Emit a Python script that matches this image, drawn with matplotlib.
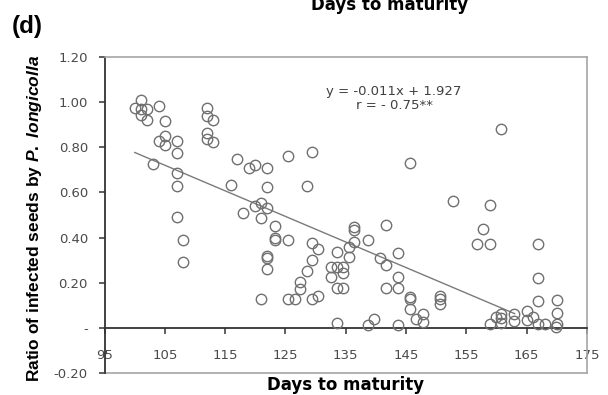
import numpy as np
import matplotlib
matplotlib.use("Agg")
import matplotlib.pyplot as plt

plt.rcParams['font.family'] = ['DejaVu Sans']
plt.rcParams['mathtext.fontset'] = 'custom'
plt.rcParams['mathtext.it'] = 'Liberation Sans:italic:bold'
plt.rcParams['mathtext.rm'] = 'Liberation Sans:bold'

# days to maturity vs ratio of infected seeds, 10 per row
days = [101, 100, 101, 102, 101, 102, 104, 105, 104, 105,
        105, 107, 107, 103, 107, 107, 107, 108, 108, 112,
        112, 113, 112, 112, 113, 116, 117, 119, 120, 122,
        122, 121, 120, 118, 122, 121, 123.3, 123.3, 123.3, 122,
        122, 122, 121, 125.4, 125.4, 125.4, 126.5, 127.4, 127.4, 128.5,
        128.5, 129.4, 129.4, 130.4, 129.4, 129.4, 130.4, 133.5, 132.5, 133.5,
        134.6, 132.5, 134.6, 133.5, 134.6, 133.5, 135.6, 135.6, 136.4, 136.4,
        136.4, 138.6, 138.6, 139.6, 140.6, 141.6, 141.6, 143.7, 143.7, 141.6,
        143.7, 143.7, 145.6, 145.6, 145.6, 146.7, 147.8, 147.8, 145.7, 150.7,
        150.7, 150.7, 152.8, 158.9, 157.7, 156.8, 158.9, 160.7, 158.9, 159.9,
        160.7, 160.7, 160.7, 162.9, 162.9, 165, 165, 166.1, 166.8, 166.8,
        166.8, 166.8, 168, 170.1, 170.1, 170.1, 169.8]
ratio = [1.01, 0.975, 0.97, 0.97, 0.945, 0.92, 0.985, 0.915, 0.83, 0.85,
         0.81, 0.83, 0.775, 0.725, 0.685, 0.63, 0.49, 0.39, 0.29, 0.975,
         0.94, 0.92, 0.865, 0.835, 0.825, 0.635, 0.75, 0.71, 0.72, 0.71,
         0.625, 0.555, 0.54, 0.51, 0.53, 0.485, 0.45, 0.40, 0.39, 0.32,
         0.31, 0.26, 0.13, 0.76, 0.39, 0.13, 0.13, 0.205, 0.17, 0.25,
         0.63, 0.78, 0.375, 0.35, 0.30, 0.13, 0.14, 0.335, 0.27, 0.27,
         0.27, 0.225, 0.245, 0.175, 0.175, 0.02, 0.36, 0.315, 0.445, 0.435,
         0.38, 0.39, 0.012, 0.04, 0.31, 0.455, 0.28, 0.33, 0.225, 0.175,
         0.175, 0.012, 0.135, 0.128, 0.085, 0.04, 0.06, 0.027, 0.73, 0.14,
         0.128, 0.105, 0.56, 0.545, 0.44, 0.37, 0.37, 0.88, 0.015, 0.05,
         0.06, 0.045, 0.02, 0.06, 0.03, 0.075, 0.035, 0.05, 0.015, 0.37,
         0.22, 0.12, 0.015, 0.125, 0.065, 0.015, 0.005]

# fitted line as drawn in the figure
trend_days = [100, 163]
trend_ratio = [0.777, 0.063]

x_ticks = [95, 105, 115, 125, 135, 145, 155, 165, 175]
y_ticks = [1.2, 1.0, 0.8, 0.6, 0.4, 0.2, 0.0, -0.2]
y_labels = ['1.20', '1.00', '0.80', '0.60', '0.40', '0.20', '-', '-0.20']

fig = plt.figure(figsize=(6.08, 3.95), dpi=100)
ax = fig.add_axes([0.172, 0.0557, 0.7935, 0.8])

ax.plot(days, ratio, 'o', ms=7.5, mfc='none', mec='#707070', mew=1.0, zorder=3)
ax.plot(trend_days, trend_ratio, color='#7a7a7a', lw=1.0, zorder=2)

ax.set_xlim(95, 175)
ax.set_ylim(-0.2, 1.2)
ax.set_xticks(x_ticks)
ax.set_yticks(y_ticks)
ax.set_yticklabels(y_labels)

dark = '#333333'
gray = '#a6a6a6'
ax.spines['bottom'].set_position(('data', 0))
ax.spines['bottom'].set_color(dark)
ax.spines['bottom'].set_linewidth(1.3)
ax.spines['left'].set_color(dark)
ax.spines['left'].set_linewidth(1.3)
for s in ['top', 'right']:
    ax.spines[s].set_color(gray)
    ax.spines[s].set_linewidth(1.2)
ax.axhline(-0.2, color=gray, lw=1.2, clip_on=False)

ax.tick_params(axis='x', direction='out', length=4, width=1.1, color=dark,
               labelsize=9.5, labelcolor='#4a4a4a', pad=11)
ax.tick_params(axis='y', direction='out', length=4, width=1.1, color=dark,
               labelsize=9.5, labelcolor='#4a4a4a', pad=8)

ax.set_xlabel('Days to maturity', fontsize=12, fontweight='bold')
ax.xaxis.set_label_coords(0.5, -0.008)
ax.set_ylabel(r'Ratio of infected seeds by $\mathit{P.\ longicolla}$',
              fontsize=12.5, fontweight='bold', family='Liberation Sans')
ax.yaxis.set_label_coords(-0.125, 0.49)

ax.text(0.6, 0.912, 'y = -0.011x + 1.927\nr = - 0.75**', transform=ax.transAxes,
        ha='center', va='top', fontsize=9.5, color='#404040', linespacing=1.1)

fig.text(0.02, 0.934, '(d)', fontsize=17.5, fontweight='bold',
         family='Liberation Sans', va='center')
fig.text(0.641, 0.975, 'Days to maturity', fontsize=12, fontweight='bold',
         ha='center', va='baseline')

fig.savefig('out.png', dpi=100)
